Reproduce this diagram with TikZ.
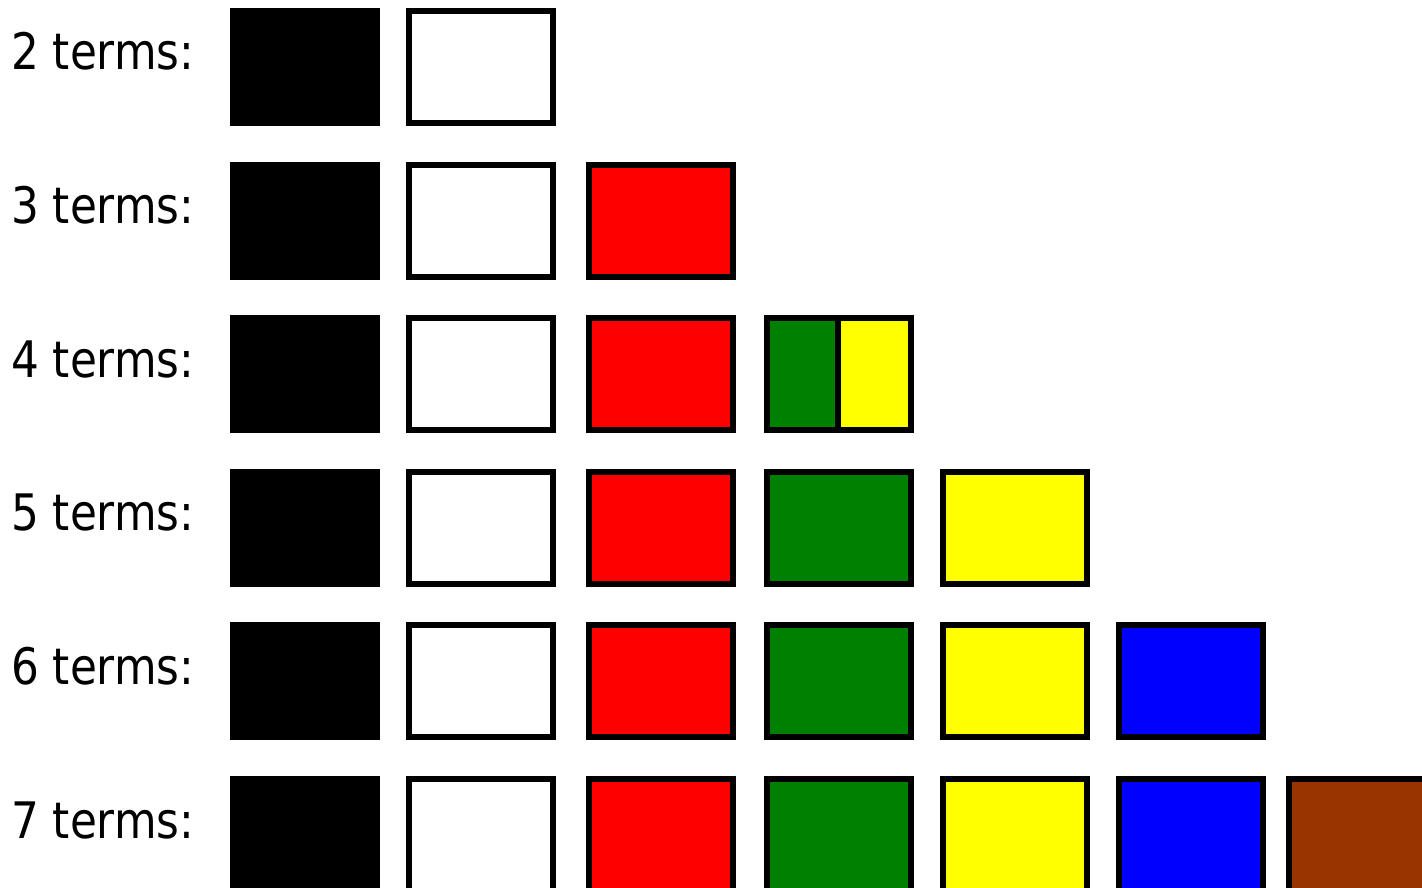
\documentclass[tikz,border=0pt]{standalone}
\usepackage{fontspec}
\setmainfont{DejaVu Sans}[FakeStretch=0.87]
\definecolor{cbrown}{RGB}{153,51,0}
\definecolor{cgreen}{RGB}{0,128,0}
\definecolor{cyellow}{RGB}{255,255,0}
\definecolor{cblue}{RGB}{0,0,255}
\definecolor{cred}{RGB}{255,0,0}
\tikzset{
  termbox/.style={draw=black, line width=6pt, rectangle, inner sep=0pt,
    minimum width=144pt, minimum height=112pt, anchor=north west},
  halfbox/.style={draw=black, line width=6pt, rectangle, inner sep=0pt,
    minimum height=112pt, anchor=north west},
  rowlabel/.style={anchor=base west, inner sep=0pt, font=\fontsize{50.3}{60}\selectfont}
}
\begin{document}
\begin{tikzpicture}[x=1pt,y=-1pt]
\useasboundingbox (0,0) rectangle (1422,888);
\clip (0,0) rectangle (1422,888);
\foreach \n [count=\i from 0] in {2,...,7}{
  \pgfmathsetmacro{\tp}{8+153.6*\i}
  \pgfmathsetmacro{\base}{\tp+62}
  \node[rowlabel] (lab\n) at (11,\base) {\n\ terms:};
  \node[termbox, fill=black] (k\n) at (230,\tp) {};
  \node[termbox, fill=white] (w\n) at (406,\tp) {};
  \ifnum\n>2 \node[termbox, fill=cred] (r\n) at (586,\tp) {}; \fi
  \ifnum\n=4
    \node[halfbox, fill=cgreen, minimum width=71pt] (g\n) at (764,\tp) {};
    \node[halfbox, fill=cyellow, minimum width=73pt] (y\n) at (835,\tp) {};
  \fi
  \ifnum\n>4
    \node[termbox, fill=cgreen] (g\n) at (764,\tp) {};
    \node[termbox, fill=cyellow] (y\n) at (940,\tp) {};
  \fi
  \ifnum\n>5 \node[termbox, fill=cblue] (b\n) at (1116,\tp) {}; \fi
  \ifnum\n>6 \node[termbox, fill=cbrown] (br\n) at (1286,\tp) {}; \fi
}
\end{tikzpicture}
\end{document}
